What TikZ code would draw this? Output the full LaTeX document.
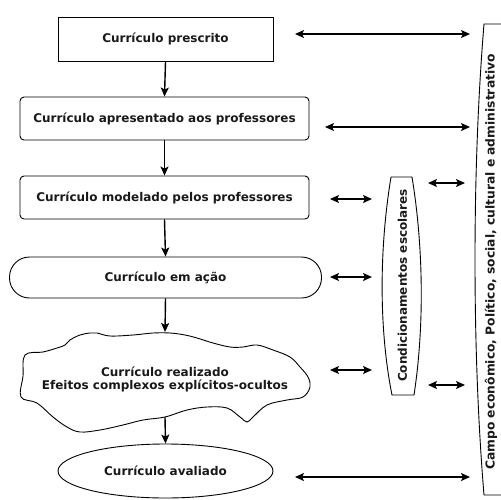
\documentclass[tikz,border=0pt]{standalone}
\usepackage{fontspec}
\setmainfont{DejaVu Sans}
\usetikzlibrary{arrows.meta,shapes.geometric}
\tikzset{
  lbl/.style={font=\bfseries\fontsize{12}{14}\selectfont, text=black!90},
  boxsharp/.style={draw, line width=0.9pt, inner sep=0pt, lbl},
  boxround/.style={draw, line width=0.9pt, inner sep=0pt, rounded corners=4pt, lbl},
  tip/.tip={Stealth[length=9pt,width=8pt,inset=2pt]},
  conn/.style={line width=1.4pt, -tip},
  dconn/.style={line width=1.4pt, tip-tip},
  outline/.style={line width=0.9pt}
}
\begin{document}
\begin{tikzpicture}[x=1pt,y=-1pt]
\useasboundingbox (0,0) rectangle (501,499);
% main column
\node[boxsharp, minimum width=215pt, minimum height=44pt] (b1) at (165.5,39) {Currículo prescrito};
\node[boxround, minimum width=289pt, minimum height=43pt] (b2) at (164.5,118.5) {Currículo apresentado aos professores};
\node[boxround, minimum width=289pt, minimum height=43pt] (b3) at (164.5,197.5) {Currículo modelado pelos professores};
\node[boxround, rounded corners=20pt, minimum width=312pt, minimum height=41pt] (b4) at (165.5,277.5) {Currículo em ação};
% cloud
\draw[outline] plot[smooth cycle, tension=0.6] coordinates {
 (25,355) (23,376) (21,397) (37,403) (53,417) (67,427) (80,432) (100,430) (123,425) (143,420) (165,417)
 (187,410) (207,407) (227,408) (240,417) (247,422) (253,417) (267,405) (287,400) (303,397) (310,387)
 (308,377) (300,367) (290,357) (273,350) (257,345) (243,347) (230,347) (213,343) (197,338) (185,335)
 (170,333) (153,333) (133,335) (110,336) (97,333) (90,333) (80,335) (70,340) (65,345) (57,348) (43,352)};
\node[lbl, align=center, inner sep=0pt] (b5) at (165,379.5) {Currículo realizado\\[-1pt]Efeitos complexos explícitos-ocultos};
\coordinate (c5top) at (165,332);
\coordinate (c5bot) at (165,417);
\node[draw, ellipse, line width=0.9pt, inner sep=0pt, minimum width=215pt, minimum height=54pt, lbl] (b6) at (165.5,471) {Currículo avaliado};
% vertical connectors
\draw[conn] (b1.south) -- (b2.north);
\draw[conn] (b2.south) -- (b3.north);
\draw[conn] (b3.south) -- (b4.north);
\draw[conn] (b4.south) -- (c5top);
\draw[conn] (c5bot) -- (b6.north);
% Condicionamentos escolares
\draw[outline] (391,177) -- (412,177) .. controls (424,250) and (424,330) .. (414,395)
  -- (392,395) .. controls (379,330) and (379,250) .. (391,177);
\node[lbl, rotate=90, inner sep=0pt] (ce) at (402.5,285.5) {Condicionamentos escolares};
% Campo
\draw[outline] (501,24) -- (484,24) .. controls (472,170) and (472,350) .. (484,495) -- (501,495);
\node[lbl, font=\bfseries\fontsize{12.3}{14}\selectfont, rotate=90, inner sep=0pt] (cp) at (491,262) {Campo econômico, Político, social, cultural e administrativo};
% horizontal arrows
\coordinate (h1a) at (295,34);  \coordinate (h1b) at (470,34);
\coordinate (h2a) at (325,127); \coordinate (h2b) at (470,127);
\coordinate (h3a) at (330,199); \coordinate (h3b) at (372,199);
\coordinate (h4a) at (428,183); \coordinate (h4b) at (465,183);
\coordinate (h5a) at (330,277); \coordinate (h5b) at (372,277);
\coordinate (h6a) at (330,370); \coordinate (h6b) at (372,370);
\coordinate (h7a) at (428,385); \coordinate (h7b) at (465,385);
\coordinate (h8a) at (295,477); \coordinate (h8b) at (470,477);
\draw[dconn] (h1a) -- (h1b);
\draw[dconn] (h2a) -- (h2b);
\draw[dconn] (h3a) -- (h3b);
\draw[dconn] (h4a) -- (h4b);
\draw[dconn] (h5a) -- (h5b);
\draw[dconn] (h6a) -- (h6b);
\draw[dconn] (h7a) -- (h7b);
\draw[dconn] (h8a) -- (h8b);
\end{tikzpicture}
\end{document}
